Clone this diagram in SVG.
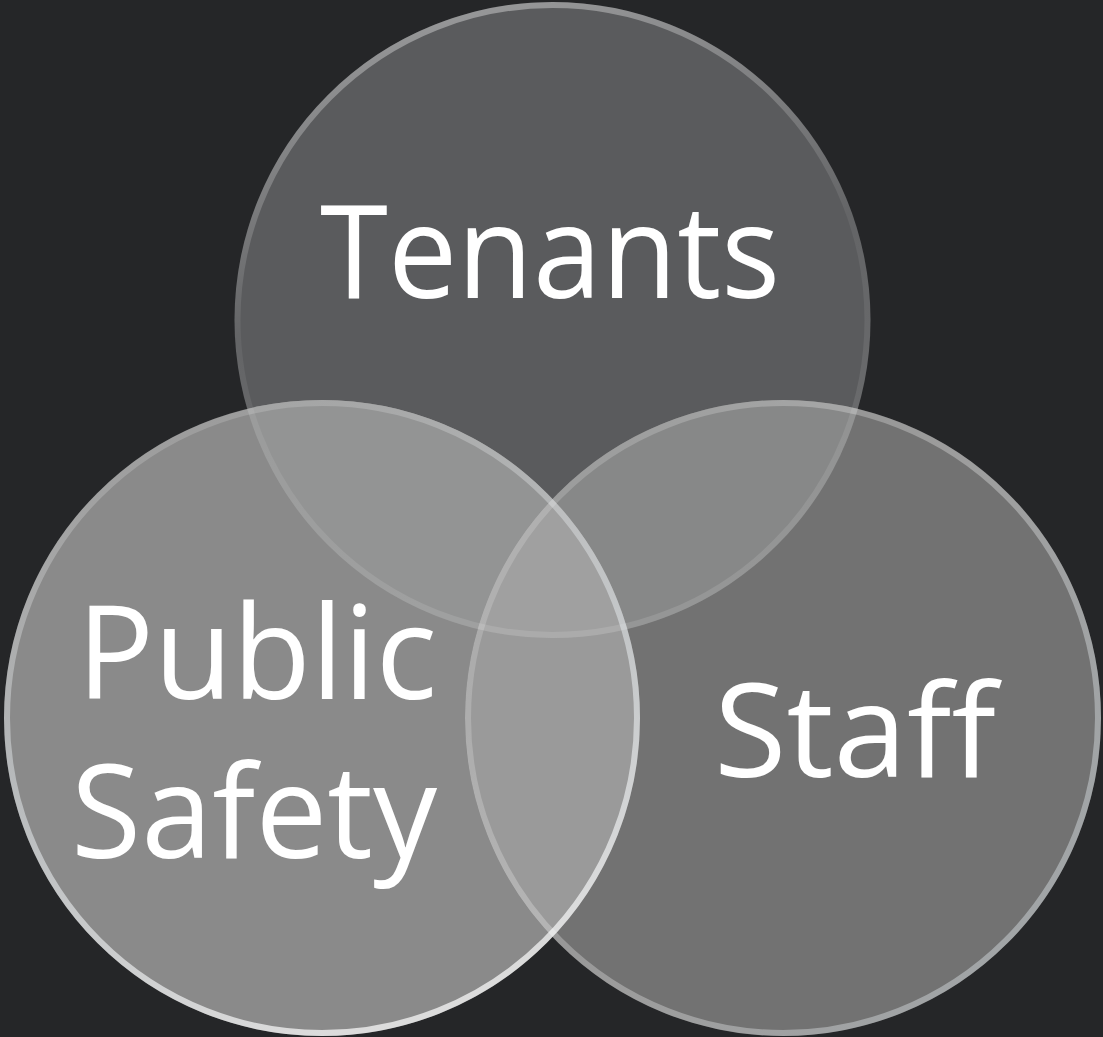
<svg xmlns="http://www.w3.org/2000/svg" width="1103" height="1037" viewBox="0 0 1103 1037">
  <style>
    .lbl { font-family: "Open Sans", "Liberation Sans", sans-serif; font-size: 130px; fill: #ffffff; }
    .rim { fill: none; stroke-width: 6; }
  </style>
  <defs>
    <clipPath id="cT"><circle cx="552.5" cy="320" r="318"/></clipPath>
    <clipPath id="cP"><circle cx="322" cy="718" r="318"/></clipPath>
    <linearGradient id="gT" x1="0.3" y1="0" x2="0.5" y2="1">
      <stop offset="0" stop-color="#ffffff" stop-opacity="0.38"/>
      <stop offset="0.45" stop-color="#ffffff" stop-opacity="0.06"/>
      <stop offset="1" stop-color="#ffffff" stop-opacity="0.12"/>
    </linearGradient>
    <linearGradient id="gP" x1="0.2" y1="0" x2="0.5" y2="1">
      <stop offset="0" stop-color="#ffffff" stop-opacity="0.12"/>
      <stop offset="0.5" stop-color="#eef4f8" stop-opacity="0.45"/>
      <stop offset="1" stop-color="#ffffff" stop-opacity="0.7"/>
    </linearGradient>
    <linearGradient id="gS" x1="0" y1="0.2" x2="1" y2="0.8">
      <stop offset="0" stop-color="#ffffff" stop-opacity="0.15"/>
      <stop offset="0.5" stop-color="#ffffff" stop-opacity="0.3"/>
      <stop offset="1" stop-color="#e4eef4" stop-opacity="0.42"/>
    </linearGradient>
  </defs>
  <rect width="1103" height="1037" fill="#252628"/>

  <g id="fills">
    <circle cx="552.5" cy="320" r="318" fill="#5a5b5d"/>
    <circle cx="322" cy="718" r="318" fill="#8a8a8a"/>
    <circle cx="783" cy="718" r="318" fill="#727272"/>
    <circle cx="322" cy="718" r="318" fill="#939494" clip-path="url(#cT)"/>
    <circle cx="783" cy="718" r="318" fill="#878888" clip-path="url(#cT)"/>
    <circle cx="783" cy="718" r="318" fill="#9a9a9a" clip-path="url(#cP)"/>
    <g clip-path="url(#cT)">
      <circle cx="783" cy="718" r="318" fill="#a0a0a0" clip-path="url(#cP)"/>
    </g>
  </g>

  <g id="connectors"></g>

  <g id="node-tenants">
    <circle class="rim" cx="552.5" cy="320" r="315" stroke="url(#gT)"/>
    <text class="lbl" x="320" y="298" textLength="460" lengthAdjust="spacingAndGlyphs">Tenants</text>
  </g>
  <g id="node-staff">
    <circle class="rim" cx="783" cy="718" r="315" stroke="url(#gS)"/>
    <text class="lbl" x="714" y="777" textLength="282" lengthAdjust="spacingAndGlyphs">Staff</text>
  </g>
  <g id="node-public-safety">
    <circle class="rim" cx="322" cy="718" r="315" stroke="url(#gP)"/>
    <text class="lbl" x="77" y="699" textLength="360" lengthAdjust="spacingAndGlyphs">Public</text>
    <text class="lbl" x="71" y="858" textLength="366" lengthAdjust="spacingAndGlyphs">Safety</text>
  </g>
</svg>
